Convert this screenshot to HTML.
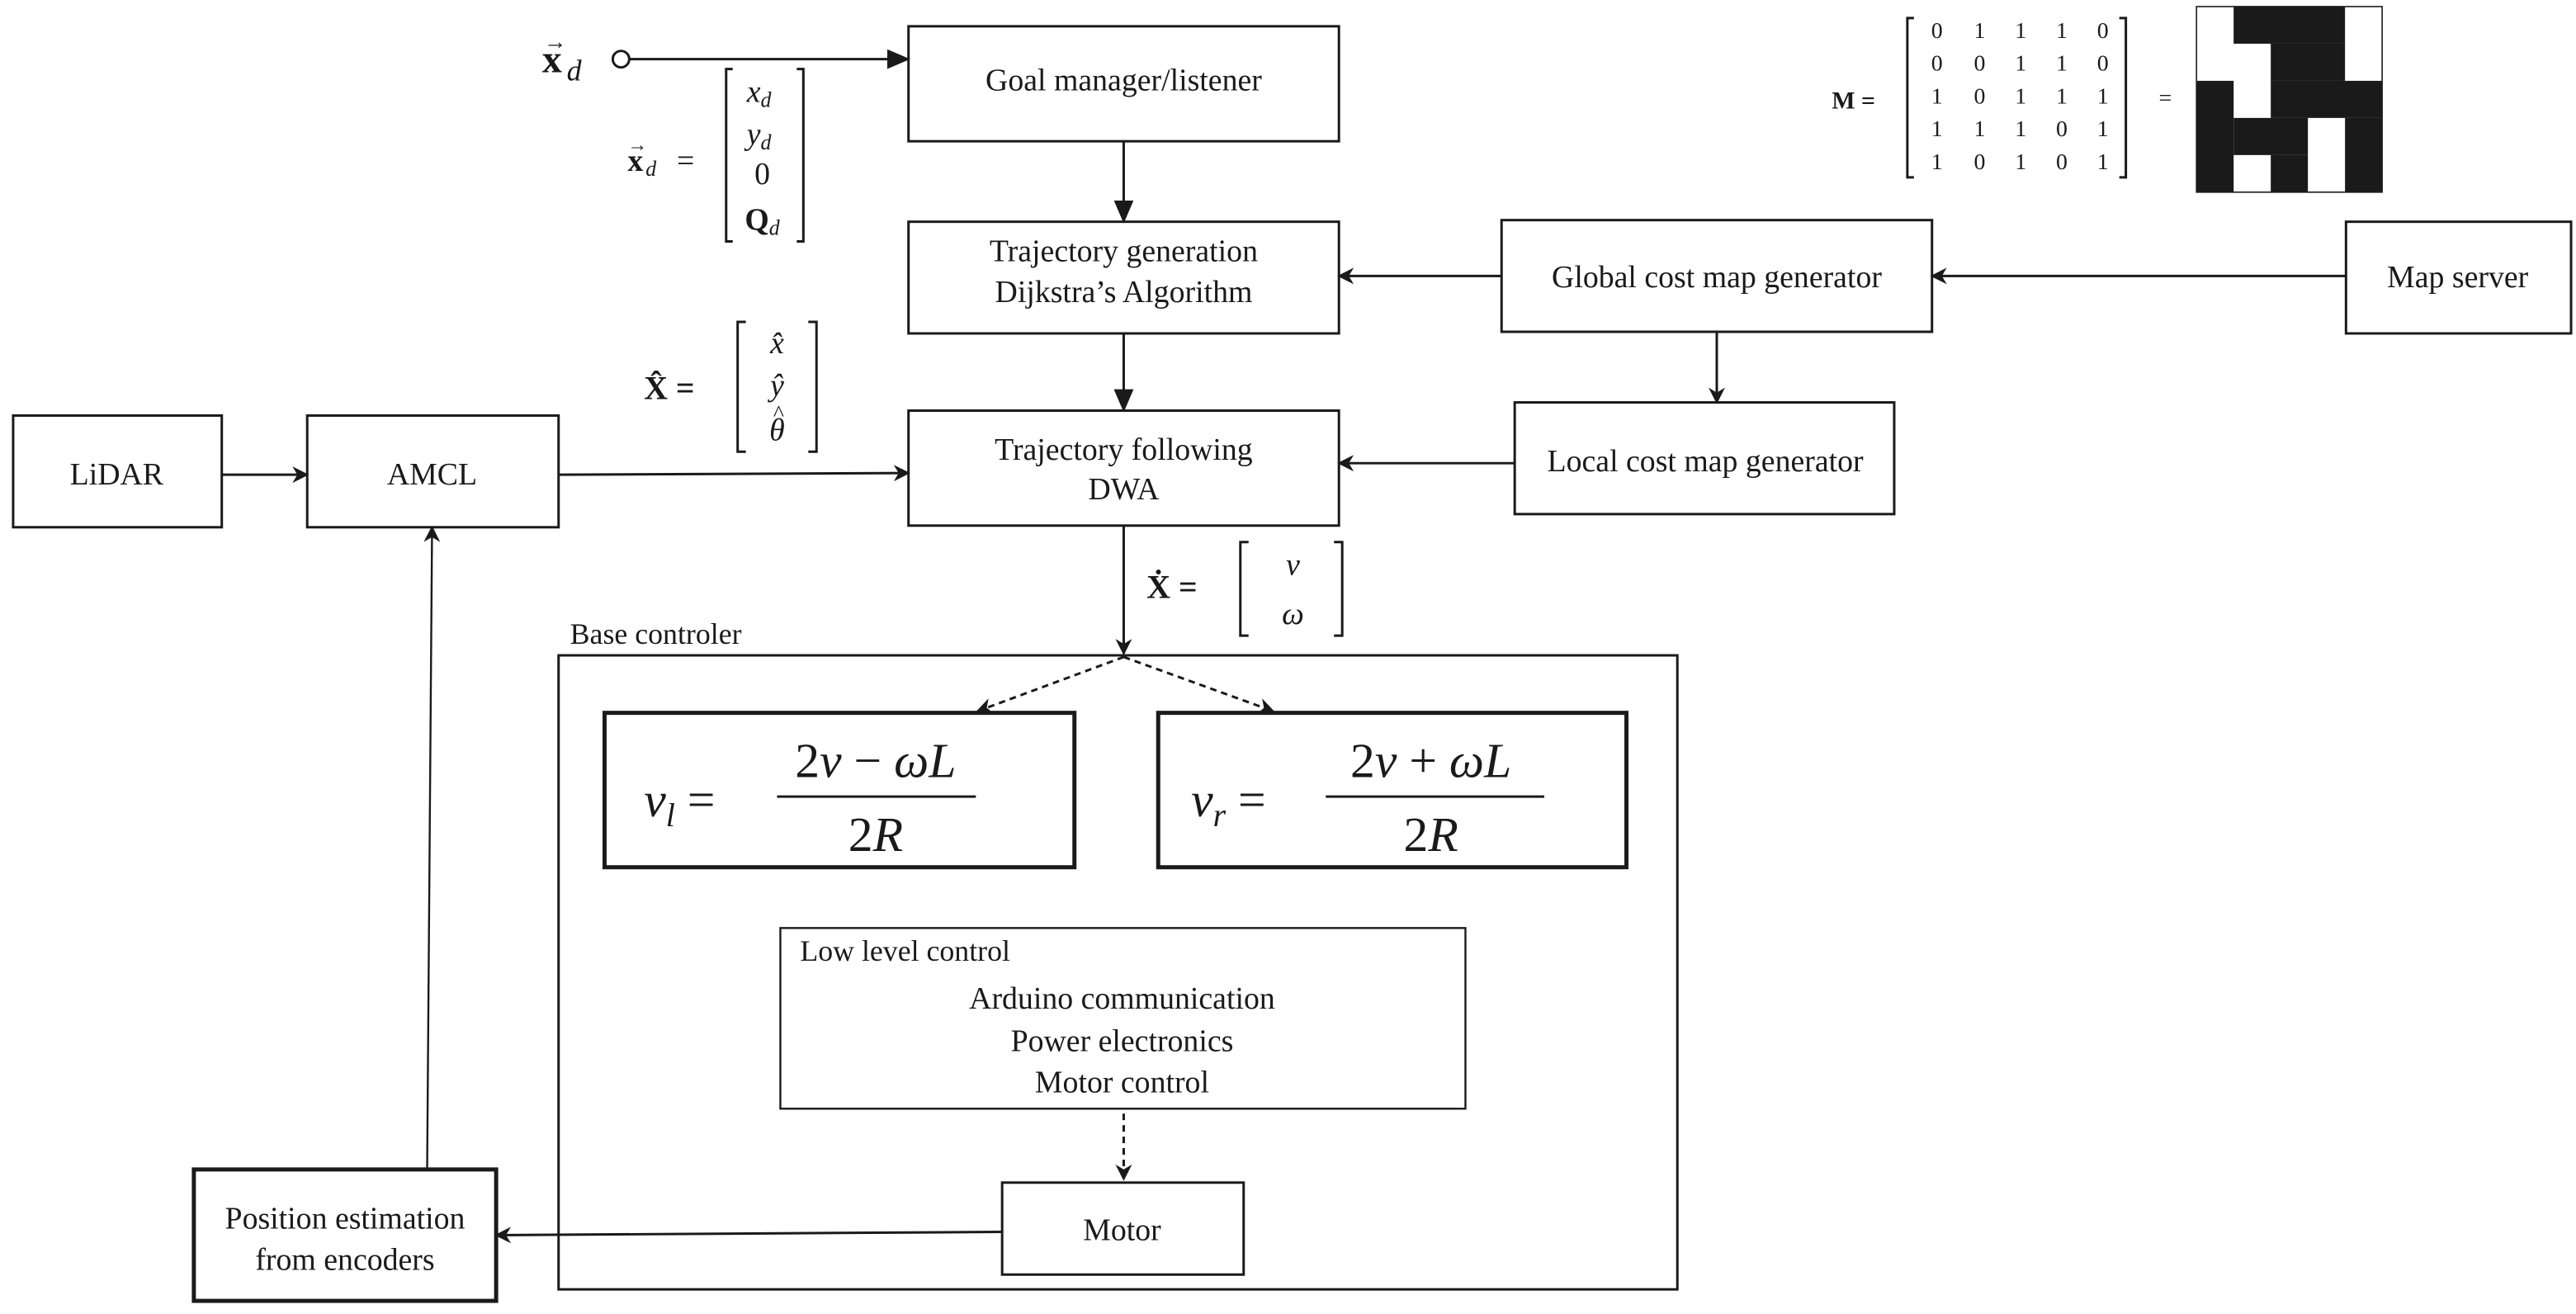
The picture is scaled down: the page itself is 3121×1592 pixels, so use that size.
<!DOCTYPE html>
<html><head><meta charset="utf-8"><style>
html,body{margin:0;padding:0;background:#fff;}
svg{display:block;}
text{font-family:"Liberation Serif",serif;fill:#1a1a1a;}
</style></head><body>
<svg width="3121" height="1592" viewBox="0 0 1568 800" preserveAspectRatio="none" xmlns="http://www.w3.org/2000/svg">
<defs>
<marker id="a" markerWidth="10" markerHeight="10" refX="9" refY="5" orient="auto" markerUnits="userSpaceOnUse"><path d="M0,0 L10,5 L0,10 L3,5 z" fill="#1a1a1a"/></marker>
<marker id="b" markerWidth="14" markerHeight="12" refX="13" refY="6" orient="auto" markerUnits="userSpaceOnUse"><path d="M0,0 L14,6 L0,12 z" fill="#1a1a1a"/></marker>
</defs>
<g fill="none" stroke="#1a1a1a" stroke-width="1.5">
<rect x="553" y="16" width="262" height="70"/>
<rect x="553" y="135" width="262" height="68"/>
<rect x="553" y="250" width="262" height="70"/>
<rect x="914" y="134" width="262" height="68"/>
<rect x="1428" y="135" width="137" height="68"/>
<rect x="922" y="245" width="231" height="68"/>
<rect x="8" y="253" width="127" height="68"/>
<rect x="187" y="253" width="153" height="68"/>
<rect x="340" y="399" width="681" height="386"/>
<rect x="475" y="565" width="417" height="110" stroke-width="1.2"/>
<rect x="610" y="720" width="147" height="56"/>
<rect x="118" y="712" width="184" height="80" stroke-width="2.5"/>
<rect x="368" y="434" width="286" height="94" stroke-width="2.5"/>
<rect x="705" y="434" width="285" height="94" stroke-width="2.5"/>
<circle cx="378" cy="36" r="5"/>
<line x1="383" y1="36" x2="553" y2="36" marker-end="url(#b)"/>
<line x1="684" y1="86" x2="684" y2="135" marker-end="url(#b)"/>
<line x1="684" y1="203" x2="684" y2="250" marker-end="url(#b)"/>
<line x1="1428" y1="168" x2="1176" y2="168" marker-end="url(#a)"/>
<line x1="914" y1="168" x2="815" y2="168" marker-end="url(#a)"/>
<line x1="1045" y1="202" x2="1045" y2="245" marker-end="url(#a)"/>
<line x1="922" y1="282" x2="815" y2="282" marker-end="url(#a)"/>
<line x1="135" y1="289" x2="187" y2="289" marker-end="url(#a)"/>
<line x1="340" y1="289" x2="553" y2="288" marker-end="url(#a)"/>
<line x1="684" y1="320" x2="684" y2="398" marker-end="url(#a)"/>
<line x1="684" y1="400" x2="775" y2="433" stroke-dasharray="4,3" marker-end="url(#a)"/>
<line x1="684" y1="400" x2="595" y2="433" stroke-dasharray="4,3" marker-end="url(#a)"/>
<line x1="684" y1="678" x2="684" y2="718" stroke-dasharray="4,3" marker-end="url(#a)"/>
<line x1="610" y1="750" x2="302" y2="752" marker-end="url(#a)"/>
<line x1="260" y1="712" x2="263" y2="321" stroke-width="1.2" marker-end="url(#a)"/>
<path d="M446,42 h-4 v105 h4 M485,42 h4 v105 h-4"/>
<path d="M454,196 h-5 v79 h5 M492,196 h5 v79 h-5"/>
<path d="M760,330 h-5 v57 h5 M812,330 h5 v57 h-5"/>
<path d="M1165,11 h-4 v97 h4 M1290,11 h4 v97 h-4"/>
</g>
<g font-size="19" text-anchor="middle">
<text x="684" y="55">Goal manager/listener</text>
<text x="684" y="159">Trajectory generation</text>
<text x="684" y="184">Dijkstra’s Algorithm</text>
<text x="684" y="280">Trajectory following</text>
<text x="684" y="304">DWA</text>
<text x="1045" y="175">Global cost map generator</text>
<text x="1496" y="175">Map server</text>
<text x="1038" y="287">Local cost map generator</text>
<text x="71" y="295">LiDAR</text>
<text x="263" y="295">AMCL</text>
<text x="683" y="614">Arduino communication</text>
<text x="683" y="640">Power electronics</text>
<text x="683" y="665">Motor control</text>
<text x="683" y="755">Motor</text>
<text x="210" y="748">Position estimation</text>
<text x="210" y="773">from encoders</text>
</g>
<text x="347" y="392" font-size="18">Base controler</text>
<text x="487" y="585" font-size="18">Low level control</text>
<text x="330" y="44" font-size="24" font-weight="bold">x</text><text x="331" y="30" font-size="14">→</text><text x="345" y="49" font-size="18" font-style="italic">d</text>
<text x="382" y="104" font-size="19" font-weight="bold">x</text><text x="382" y="92" font-size="12">→</text><text x="393" y="107" font-size="13" font-style="italic">d</text><text x="412" y="104" font-size="19">=</text>
<g font-size="19" text-anchor="middle">
<text x="462" y="62" font-style="italic">x<tspan font-size="13" dy="3">d</tspan></text>
<text x="462" y="88" font-style="italic">y<tspan font-size="13" dy="3">d</tspan></text>
<text x="464" y="112">0</text>
<text x="464" y="140" font-weight="bold">Q<tspan font-size="13" font-style="italic" font-weight="normal" dy="3">d</tspan></text>
</g>
<text x="392" y="243" font-size="20" font-weight="bold">X̂ =</text>
<g font-size="19" text-anchor="middle" font-style="italic"><text x="473" y="215">x̂</text><text x="473" y="241">ŷ</text><text x="473" y="268">θ</text><text x="474" y="256" font-style="normal" font-size="14">^</text></g>
<text x="698" y="364" font-size="20" font-weight="bold">Ẋ =</text>
<g font-size="19" text-anchor="middle" font-style="italic"><text x="787" y="350">v</text><text x="787" y="380">ω</text></g>
<g font-size="30" font-style="italic">
<text x="392" y="497">v<tspan font-size="20" dy="6">l</tspan><tspan dy="-6" font-style="normal"> =</tspan></text>
<text x="533" y="473" text-anchor="middle" font-style="normal">2<tspan font-style="italic">v</tspan> − <tspan font-style="italic">ωL</tspan></text>
<text x="533" y="518" text-anchor="middle" font-style="normal">2<tspan font-style="italic">R</tspan></text>
<text x="725" y="497">v<tspan font-size="20" dy="6">r</tspan><tspan dy="-6" font-style="normal"> =</tspan></text>
<text x="871" y="473" text-anchor="middle" font-style="normal">2<tspan font-style="italic">v</tspan> + <tspan font-style="italic">ωL</tspan></text>
<text x="871" y="518" text-anchor="middle" font-style="normal">2<tspan font-style="italic">R</tspan></text>
</g>
<line x1="473" y1="485" x2="594" y2="485" stroke="#1a1a1a" stroke-width="1.5"/>
<line x1="807" y1="485" x2="940" y2="485" stroke="#1a1a1a" stroke-width="1.5"/>
<text x="1115" y="66" font-size="15" font-weight="bold">M =</text>
<g font-size="14" text-anchor="middle">
<text x="1179" y="23">0</text><text x="1205" y="23">1</text><text x="1230" y="23">1</text><text x="1255" y="23">1</text><text x="1280" y="23">0</text>
<text x="1179" y="43">0</text><text x="1205" y="43">0</text><text x="1230" y="43">1</text><text x="1255" y="43">1</text><text x="1280" y="43">0</text>
<text x="1179" y="63">1</text><text x="1205" y="63">0</text><text x="1230" y="63">1</text><text x="1255" y="63">1</text><text x="1280" y="63">1</text>
<text x="1179" y="83">1</text><text x="1205" y="83">1</text><text x="1230" y="83">1</text><text x="1255" y="83">0</text><text x="1280" y="83">1</text>
<text x="1179" y="103">1</text><text x="1205" y="103">0</text><text x="1230" y="103">1</text><text x="1255" y="103">0</text><text x="1280" y="103">1</text>
<text x="1318" y="64">=</text>
</g>
<g fill="#1a1a1a">
<rect x="1337" y="4" width="113" height="113" fill="#fff" stroke="#1a1a1a" stroke-width="0.8"/>
<rect x="1359.6" y="4" width="67.8" height="22.6"/>
<rect x="1382.2" y="26.6" width="45.2" height="22.6"/>
<rect x="1337" y="49.2" width="22.6" height="67.8"/>
<rect x="1382.2" y="49.2" width="67.8" height="22.6"/>
<rect x="1359.6" y="71.8" width="45.2" height="22.6"/>
<rect x="1427.4" y="71.8" width="22.6" height="45.2"/>
<rect x="1382.2" y="94.4" width="22.6" height="22.6"/>
</g>
</svg>
</body></html>
